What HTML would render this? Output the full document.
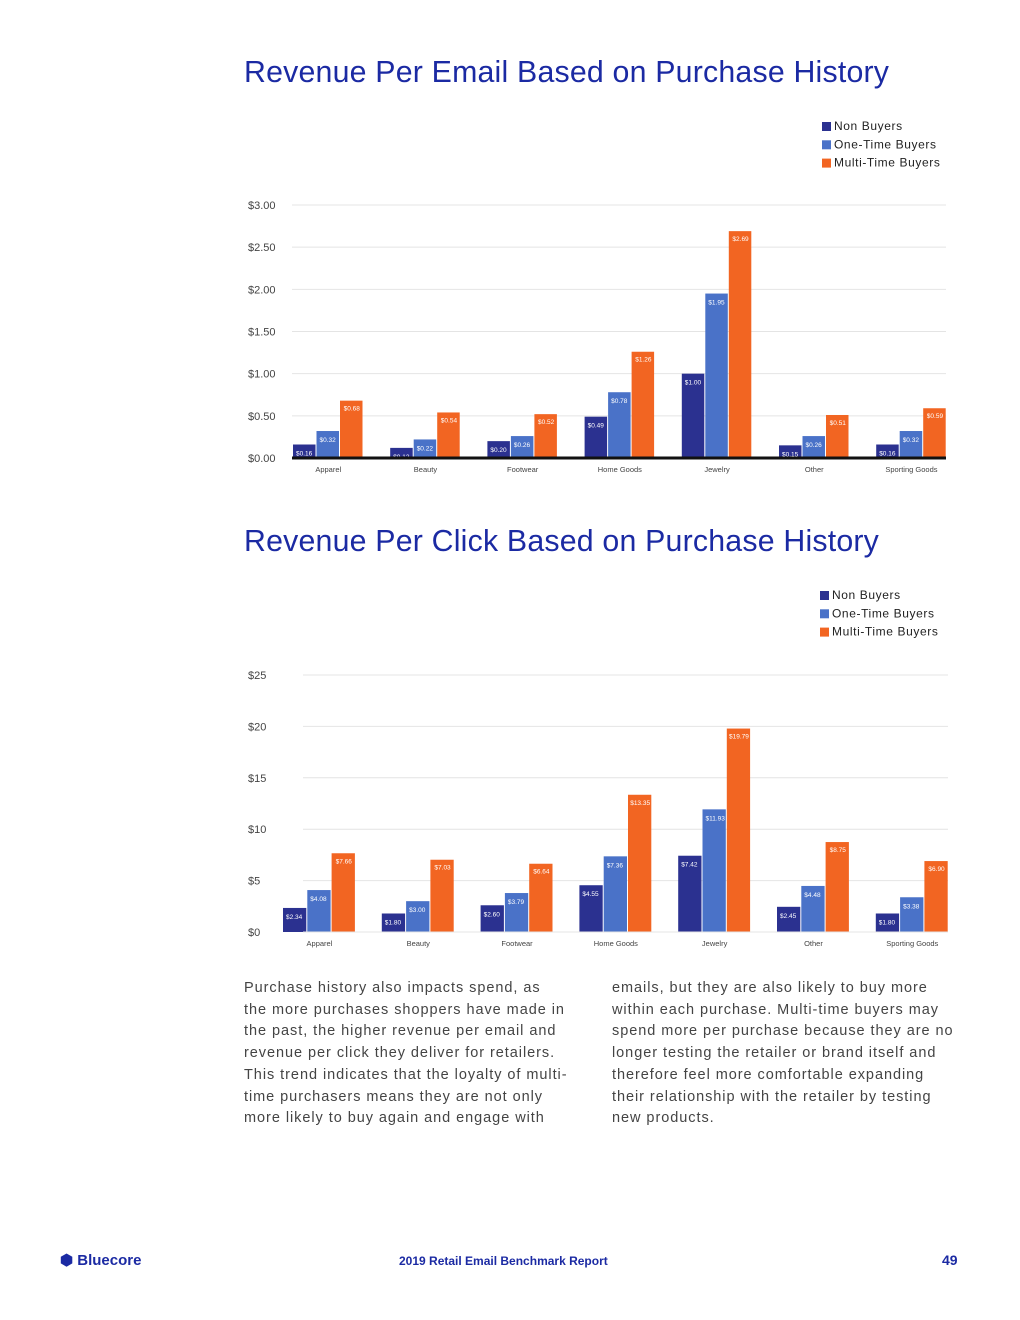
<!DOCTYPE html>
<html><head><meta charset="utf-8"><style>
body{margin:0;width:1020px;height:1320px;background:#fff;font-family:"Liberation Sans",sans-serif;position:relative;overflow:hidden}
h1{position:absolute;left:244px;margin:0;font-weight:normal;font-size:30.3px;color:#1b2aa3;letter-spacing:0.2px}
.p{position:absolute;top:978px;width:380px;font-size:14.5px;line-height:21.7px;color:#444;letter-spacing:0.95px;white-space:nowrap}
svg{position:absolute;left:0;top:0}
</style></head><body>
<h1 style="top:56px">Revenue Per Email Based on Purchase History</h1>
<h1 style="top:525px">Revenue Per Click Based on Purchase History</h1>
<svg id="c" width="1020" height="1000"></svg>
<div class="p" style="left:244px">Purchase history also impacts spend, as<br>the more purchases shoppers have made in<br>the past, the higher revenue per email and<br>revenue per click they deliver for retailers.<br>This trend indicates that the loyalty of multi-<br>time purchasers means they are not only<br>more likely to buy again and engage with</div>
<div class="p" style="left:612px">emails, but they are also likely to buy more<br>within each purchase. Multi-time buyers may<br>spend more per purchase because they are no<br>longer testing the retailer or brand itself and<br>therefore feel more comfortable expanding<br>their relationship with the retailer by testing<br>new products.</div>
<div style="position:absolute;left:60px;top:1251px;font-weight:bold;font-size:15px;color:#1b2aa3">⬢ Bluecore</div>
<div style="position:absolute;left:399px;top:1254px;font-size:12px;color:#1b2aa3;font-weight:bold">2019 Retail Email Benchmark Report</div>
<div style="position:absolute;left:942px;top:1252px;font-size:14px;color:#1b2aa3;font-weight:bold">49</div>
<script>
const categories=["Apparel","Beauty","Footwear","Home Goods","Jewelry","Other","Sporting Goods"];
const seriesNames=["Non Buyers","One-Time Buyers","Multi-Time Buyers"];
const emailNon=[0.16,0.12,0.20,0.49,1.00,0.15,0.16];
const emailOne=[0.32,0.22,0.26,0.78,1.95,0.26,0.32];
const emailMulti=[0.68,0.54,0.52,1.26,2.69,0.51,0.59];
const emailTicks=[0,0.5,1,1.5,2,2.5,3];
const clickNon=[2.34,1.80,2.60,4.55,7.42,2.45,1.80];
const clickOne=[4.08,3.00,3.79,7.36,11.93,4.48,3.38];
const clickMulti=[7.66,7.03,6.64,13.35,19.79,8.75,6.90];
const clickTicks=[0,5,10,15,20,25];
const colors=["#2b3190","#4a72c8","#f26522"];
const svg=document.getElementById('c');const NS="http://www.w3.org/2000/svg";
function mk(t,a,txt){const e=document.createElementNS(NS,t);for(const k in a)e.setAttribute(k,a[k]);if(txt!=null)e.textContent=txt;svg.appendChild(e);return e;}
function chart(o){
 const y=v=>o.y0-(v-o.min)/(o.max-o.min)*(o.y0-o.y1);
 o.ticks.forEach(t=>{
  const l=mk('line',{x1:o.gx0,x2:o.gx1,y1:y(t),y2:y(t),stroke:'#e4e4e4'});
  
  const tx=mk('text',{x:o.tx,y:y(t)+4,'font-size':11,fill:'#444'},o.fmt(t));
  
 });
 o.series.forEach((s,si)=>s.forEach((v,i)=>{
  const x=o.x0+i*o.step+si*o.bw;
  const r=mk('rect',{x:x,y:y(v),width:o.bw-1,height:o.y0-y(v),fill:colors[si]});
  
  const lb=mk('text',{x:x+(si==2?o.bw/2:3),y:y(v)+(si==2?10:11),'font-size':6.5,fill:'#fff','text-anchor':si==2?'middle':'start'},'$'+v.toFixed(2));
  
 }));
 const b=mk('line',{x1:o.gx0,x2:o.gx1,y1:o.y0,y2:o.y0,stroke:o.axisCol,'stroke-width':o.axisW});
 
 categories.forEach((c,i)=>{const t=mk('text',{x:o.x0+i*o.step+o.bw*1.5,y:o.y0+14,'font-size':7.5,fill:'#444','text-anchor':'middle'},c);
  });
 seriesNames.forEach((n,i)=>{
  const r=mk('rect',{x:o.lx,y:o.ly+i*18.3-8,width:9,height:9,fill:colors[i]});
  
  const t=mk('text',{x:o.lx+12,y:o.ly+i*18.3,'font-size':12,fill:'#222','letter-spacing':0.6},n);
  
 });
}
chart({series:[emailNon,emailOne,emailMulti],ticks:emailTicks,min:0,max:3,y0:458,y1:205,x0:293,step:97.2,bw:23.5,gx0:292,gx1:946,tx:248,fmt:t=>'$'+t.toFixed(2),axisCol:'#111',axisW:3,lx:822,ly:130});
chart({series:[clickNon,clickOne,clickMulti],ticks:clickTicks,min:0,max:25,y0:932,y1:675,x0:283,step:98.8,bw:24.3,gx0:303,gx1:948,tx:248,fmt:t=>'$'+t,axisCol:'#e4e4e4',axisW:1,lx:820,ly:599});
</script>
</body></html>
